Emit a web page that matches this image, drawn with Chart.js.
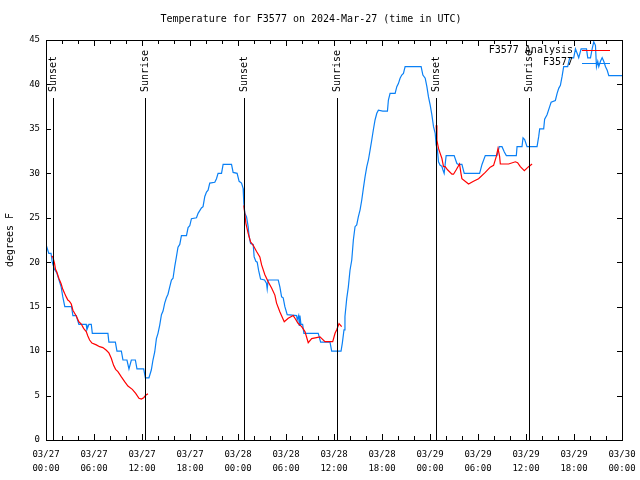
<!DOCTYPE html>
<html>
<head>
<meta charset="utf-8">
<style>
  html, body { margin: 0; padding: 0; background: #ffffff; }
  #c { display: block; }
</style>
<script src="https://cdn.jsdelivr.net/npm/chart.js@4.4.1/dist/chart.umd.min.js"></script>
</head>
<body>
<canvas id="c" width="640" height="480"></canvas>
<script>
// ---- DATA (hours since 03/27 00:00 UTC) ----
const chartTitle = 'Temperature for F3577 on 2024-Mar-27 (time in UTC)';
const yTitle = 'degrees F';
const seriesNames = ['F3577 Analysis', 'F3577'];

const xTickDates = ['03/27','03/27','03/27','03/27','03/28','03/28','03/28','03/28','03/29','03/29','03/29','03/29','03/30'];
const xTickTimes = ['00:00','06:00','12:00','18:00','00:00','06:00','12:00','18:00','00:00','06:00','12:00','18:00','00:00'];

const sunHours  = [0.85, 12.42, 24.77, 36.41, 48.81, 60.33];
const sunLabels = ['Sunset','Sunrise','Sunset','Sunrise','Sunset','Sunrise'];

const obsHours = [0,0.35,0.63,0.78,1.06,1.35,1.90,2.10,2.35,3.19,3.36,3.78,4.11,5.03,5.11,5.36,5.66,5.79,7.74,7.86,
  8.67,8.87,9.42,9.62,10.12,10.37,10.67,11.17,11.37,12.21,12.42,12.87,13.17,13.37,13.59,13.80,14.00,14.21,14.43,14.63,
  14.84,15.05,15.25,15.46,15.68,15.88,16.09,16.30,16.50,16.72,16.93,17.56,17.76,17.97,18.18,18.81,19.01,19.22,19.43,19.63,
  19.85,20.06,20.26,20.47,21.10,21.31,21.51,21.94,22.14,23.19,23.39,23.89,24.14,24.44,24.64,24.73,24.86,25.07,25.27,25.39,
  25.57,25.90,26.02,26.23,26.40,26.57,26.82,27.32,27.57,27.65,27.77,29.03,29.24,29.45,29.65,29.86,30.15,31.33,31.40,31.58,
  31.66,31.74,31.87,32.08,32.24,34.03,34.33,35.50,35.71,36.88,37.04,37.25,37.37,37.59,37.79,38.00,38.22,38.42,38.63,38.84,
  39.04,39.26,39.47,39.67,39.88,40.10,40.30,40.51,40.72,40.92,41.13,41.35,41.55,42.10,42.68,42.80,43.01,43.64,43.85,44.05,
  44.26,44.47,44.68,44.89,46.89,47.11,47.40,47.61,47.81,48.02,48.23,48.44,48.65,48.77,48.93,49.06,49.27,49.48,49.61,49.77,
  50.02,51.02,51.36,51.56,51.99,52.28,54.20,54.50,54.91,56.37,56.66,57.00,57.29,57.54,58.79,58.88,59.50,59.63,59.83,60.13,
  61.38,61.58,61.71,62.21,62.33,62.63,62.96,63.14,63.67,63.89,64.09,64.30,64.51,64.71,65.21,65.46,65.96,66.18,66.39,66.59,
  66.89,67.56,67.72,68.06,68.27,68.47,68.68,68.81,68.97,69.10,69.31,69.52,69.72,69.94,70.15,70.35,72.00];
const obsTemps = [22,21,21,20,19.2,18.8,17.2,16.1,15,15,14,14,13,13,12.4,13,13,12,12,11,
  11,10,10,9,9,8,9,9,8,8,7,7,7.9,9,9.9,11.4,12,12.9,14.1,14.5,
  15.4,16,16.4,17.2,18,18.2,19.5,20.6,21.7,22,23,23,23.9,24.1,24.9,25,25.5,25.8,26.1,26.25,
  27.4,27.9,28.1,28.9,29,29.4,30,30,31,31,30.1,30,29.1,28.9,28.3,26.6,25.5,25.1,24,22.9,
  22.1,22,20.6,20.1,20,19.1,18.1,18,17.6,17,18,18,17.2,16.1,16,15,14.1,14,13.5,14,
  12.9,14,13,13,12,12,11,11,10,10,10.9,12.4,13.9,15.9,17.2,19.1,20.25,22.5,24,24.2,
  25.1,25.9,27,28.3,29.6,30.75,31.5,32.6,33.75,34.9,36,36.75,37.1,37,37,38.25,39,39,39.75,40.1,
  40.7,41.06,41.25,42,42,41.06,40.7,39.75,38.6,37.7,36.6,35.25,34.5,33.2,32.6,31.3,30.9,30.8,30.4,30,
  32,32,31.1,31,31,30,30,31,32,32,33,33,32.4,32,32,33,33,34,33.8,33,
  33,34.1,35,35,36.1,36.6,37.5,38,38.2,39,39.56,39.9,40.9,42,42,43,43,44,43.5,43,
  44,44,43,43,44,44.8,44.4,42,42.6,42,42.6,43,42.6,42,41.6,41,41];

// analysis: three nightly segments separated by null breaks
const anaHours = [0.69,0.85,1.06,1.19,1.35,1.60,1.90,2.10,2.32,2.53,2.73,2.94,3.16,3.36,3.78,4.11,4.41,4.70,5.03,5.23,
  5.45,5.74,6.29,6.70,7.11,7.54,7.86,8.16,8.45,8.70,8.99,9.42,9.83,10.24,10.79,11.21,11.62,11.92,12.21,12.46,12.75,
  18.0,
  24.73,24.98,25.27,25.57,25.90,26.32,26.73,26.95,27.36,27.77,28.20,28.61,28.82,29.24,29.78,30.28,30.90,31.12,31.53,31.96,
  32.37,32.78,33.21,34.25,34.87,35.84,36.13,36.34,36.63,36.96,
  42.0,
  48.77,48.86,49.06,49.27,49.48,49.69,49.90,50.19,50.74,50.94,51.28,51.69,51.87,51.99,52.82,53.44,54.07,54.91,55.53,55.95,
  56.29,56.50,56.70,56.79,57.83,58.67,58.95,59.29,59.79,60.33,60.76];
const anaTemps = [20.7,20.6,19.9,19.2,18.9,18.2,17.55,16.95,16.5,16.1,15.75,15.6,15.3,14.6,13.95,13.3,13.05,12.56,12.2,11.7,
  11.25,10.9,10.7,10.5,10.4,10.1,9.8,9.2,8.4,7.95,7.7,7.1,6.56,6.07,5.7,5.25,4.7,4.6,4.76,5.03,5.2,
  null,
  26.4,24.4,23.25,22.3,21.9,21.2,20.6,19.7,18.6,17.8,17.1,16.3,15.4,14.4,13.3,13.7,14,13.7,13.1,12.75,
  12.2,10.95,11.4,11.6,11.06,11.06,12,12.4,13.1,12.75,
  null,
  35.4,33.75,32.8,32.25,31.7,30.75,30.75,30.4,29.9,29.9,30.4,31.05,30,29.4,28.8,29.1,29.4,30.1,30.7,30.9,
  31.9,32.8,31.9,31.05,31.05,31.3,31.2,30.75,30.3,30.75,31.05];

const RED = '#ff0000';
const BLUE = '#0a80f5';
const MONO = '"DejaVu Sans Mono", "Liberation Mono", monospace';

const toPts = (xs, ys) => xs.map((x, i) => ({ x: x, y: ys[i] }));

const decorPlugin = {
  id: 'decor',
  afterDatasetsDraw(chart) {
    const ctx = chart.ctx;
    const a = chart.chartArea;
    const xs = chart.scales.x, ys = chart.scales.y;
    ctx.save();
    ctx.strokeStyle = '#000';
    ctx.lineWidth = 1;
    // sunrise / sunset lines
    sunHours.forEach((h, i) => {
      const px = Math.round(xs.getPixelForValue(h)) + 0.5;
      ctx.beginPath();
      ctx.moveTo(px, a.top + 58);
      ctx.lineTo(px, a.bottom);
      ctx.stroke();
      ctx.save();
      ctx.translate(px, a.top + 52);
      ctx.rotate(-Math.PI / 2);
      ctx.font = '10px ' + MONO;
      ctx.fillStyle = '#000';
      ctx.textAlign = 'left';
      ctx.textBaseline = 'middle';
      ctx.fillText(sunLabels[i], 0, 0);
      ctx.restore();
    });
    // frame
    ctx.strokeRect(Math.round(a.left) + 0.5, Math.round(a.top) + 0.5,
      Math.round(a.right - a.left), Math.round(a.bottom - a.top));
    // x ticks every 2 h (major every 6 h), mirrored
    ctx.beginPath();
    for (let h = 0; h <= 72; h += 2) {
      const px = Math.round(xs.getPixelForValue(h)) + 0.5;
      const len = (h % 6 === 0) ? 6 : 4;
      ctx.moveTo(px, a.bottom); ctx.lineTo(px, a.bottom - len);
      ctx.moveTo(px, a.top); ctx.lineTo(px, a.top + len);
    }
    // y ticks every 5, mirrored
    for (let v = 0; v <= 45; v += 5) {
      const py = Math.round(ys.getPixelForValue(v)) + 0.5;
      ctx.moveTo(a.left, py); ctx.lineTo(a.left + 5, py);
      ctx.moveTo(a.right, py); ctx.lineTo(a.right - 5, py);
    }
    ctx.stroke();
    // legend
    ctx.font = '10px ' + MONO;
    ctx.textAlign = 'right';
    ctx.textBaseline = 'middle';
    ctx.fillStyle = '#000';
    const cols = [RED, BLUE];
    seriesNames.forEach((name, i) => {
      const y = a.top + 10 + i * 12.5;
      ctx.fillText(name, 573, y);
      ctx.strokeStyle = cols[i];
      ctx.beginPath();
      ctx.moveTo(582, Math.round(y) + 0.5);
      ctx.lineTo(610, Math.round(y) + 0.5);
      ctx.stroke();
    });
    ctx.restore();
  }
};

new Chart(document.getElementById('c'), {
  type: 'line',
  data: {
    datasets: [
      { label: seriesNames[0], data: toPts(anaHours, anaTemps), borderColor: RED, borderWidth: 1.2,
        pointRadius: 0, tension: 0, spanGaps: false, fill: false },
      { label: seriesNames[1], data: toPts(obsHours, obsTemps), borderColor: BLUE, borderWidth: 1.2,
        pointRadius: 0, tension: 0, spanGaps: false, fill: false }
    ]
  },
  options: {
    responsive: false,
    animation: false,
    devicePixelRatio: 1,
    layout: { padding: { left: 0, right: 18, top: 0, bottom: 0 } },
    plugins: {
      legend: { display: false },
      tooltip: { enabled: false },
      title: {
        display: true, text: chartTitle, color: '#000',
        font: { family: MONO, size: 10, weight: 'normal' },
        padding: { top: 13, bottom: 15 }
      }
    },
    scales: {
      x: {
        type: 'linear', min: 0, max: 72,
        grid: { display: false, drawTicks: false },
        border: { display: false },
        ticks: {
          stepSize: 6, autoSkip: false, maxRotation: 0, color: '#000', padding: 8,
          font: { family: MONO, size: 9, lineHeight: 1.55 },
          callback: (v) => { const i = Math.round(v / 6); return [xTickDates[i], xTickTimes[i]]; }
        },
        afterFit: (s) => { s.height = 40; s.paddingLeft = 0; s.paddingRight = 0; }
      },
      y: {
        min: 0, max: 45,
        grid: { display: false, drawTicks: false },
        border: { display: false },
        ticks: { stepSize: 5, color: '#000', padding: 6, font: { family: MONO, size: 9 } },
        title: { display: true, text: yTitle, color: '#000', font: { family: MONO, size: 10 }, padding: { top: 4, bottom: 0 } },
        afterFit: (s) => { s.width = 46; }
      }
    }
  },
  plugins: [decorPlugin]
});
</script>
</body>
</html>
